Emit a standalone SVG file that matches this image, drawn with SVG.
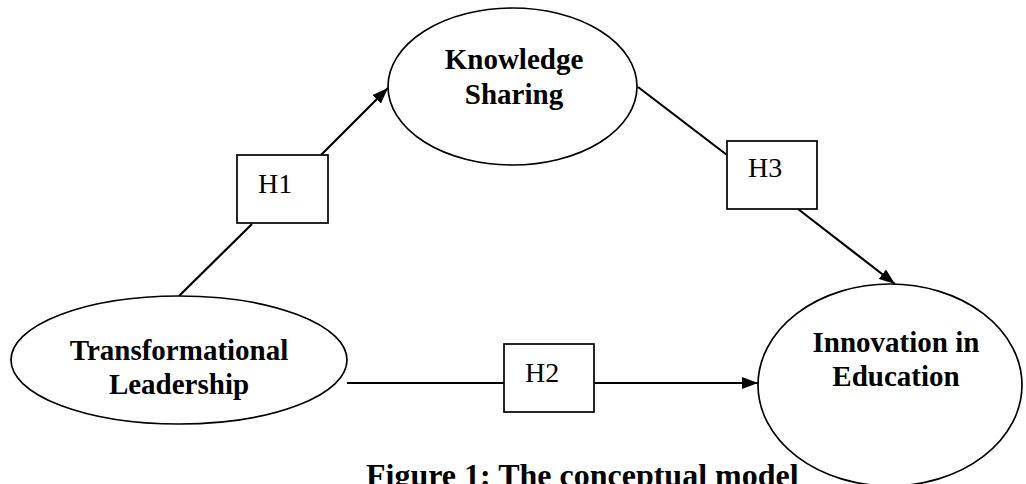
<svg xmlns="http://www.w3.org/2000/svg" width="1026" height="484" viewBox="0 0 1026 484">
<style>
.node{fill:#fff;stroke:#000;stroke-width:1.7}
.box{fill:#fff;stroke:#000;stroke-width:1.7}
.edge{stroke:#000;stroke-width:2.2;fill:none}
.lbl{font-family:"Liberation Serif","Times New Roman",serif;font-weight:bold;font-size:29px;fill:#000;text-anchor:middle}
.h{font-family:"Liberation Serif","Times New Roman",serif;font-size:28px;fill:#000}
.cap{font-family:"Liberation Serif","Times New Roman",serif;font-weight:bold;font-size:32px;fill:#000}
</style>
<defs>
<marker id="arr" viewBox="0 0 16 12" refX="16" refY="6" markerWidth="16" markerHeight="12" markerUnits="userSpaceOnUse" orient="auto">
<path d="M0,0 L16,6 L0,12 z" fill="#000"/>
</marker>
</defs>
<rect width="1026" height="484" fill="#fff"/>
<g id="connectors">
<line class="edge" x1="179" y1="296" x2="252" y2="224"/>
<line class="edge" x1="321" y1="155" x2="388" y2="88" marker-end="url(#arr)"/>
<line class="edge" x1="638" y1="87" x2="727" y2="155"/>
<line class="edge" x1="798" y1="209" x2="895" y2="284" marker-end="url(#arr)"/>
<line class="edge" x1="347" y1="383" x2="504" y2="383"/>
<line class="edge" x1="594" y1="383" x2="758" y2="383" marker-end="url(#arr)"/>
</g>
<g id="node-tl">
<ellipse class="node" cx="179" cy="360" rx="168" ry="64"/>
<text class="lbl" x="179" y="360">Transformational</text>
<text class="lbl" x="179" y="394">Leadership</text>
</g>
<g id="node-ks">
<ellipse class="node" cx="512.5" cy="86.5" rx="124.5" ry="78.5"/>
<text class="lbl" x="514" y="69">Knowledge</text>
<text class="lbl" x="514" y="104">Sharing</text>
</g>
<g id="node-ie">
<ellipse class="node" cx="890" cy="385" rx="132" ry="101"/>
<text class="lbl" x="896" y="352">Innovation in</text>
<text class="lbl" x="896" y="386">Education</text>
</g>
<g id="h1">
<rect class="box" x="237" y="155" width="91" height="68"/>
<text class="h" x="258" y="193">H1</text>
</g>
<g id="h3">
<rect class="box" x="727" y="141" width="90" height="68"/>
<text class="h" x="748" y="177">H3</text>
</g>
<g id="h2">
<rect class="box" x="504" y="344" width="90" height="68"/>
<text class="h" x="525" y="382">H2</text>
</g>
<text class="cap" x="366" y="486">Figure 1: The conceptual model</text>
</svg>
